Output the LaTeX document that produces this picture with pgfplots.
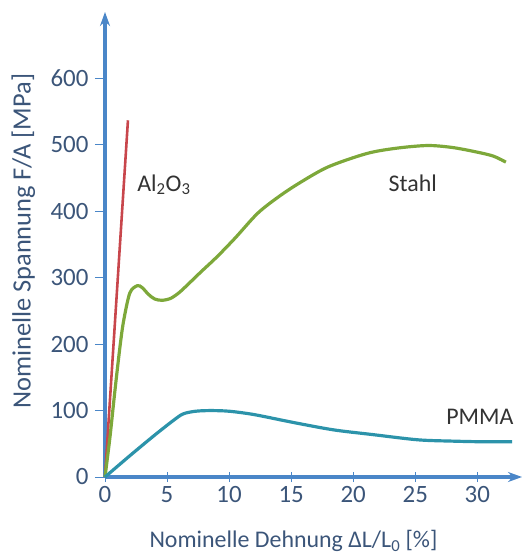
\documentclass[border=0pt]{standalone}
\usepackage{pgfplots}
\pgfplotsset{compat=1.18}
\usepackage{fontspec}
\setmainfont{Carlito}
\usetikzlibrary{arrows.meta}
\definecolor{axblue}{HTML}{4A86C8}
\definecolor{lblcol}{HTML}{3B5579}
\definecolor{txtcol}{HTML}{333333}
\definecolor{cred}{HTML}{C8464C}
\definecolor{cgreen}{HTML}{7DA83A}
\definecolor{cteal}{HTML}{2C93AA}
\begin{document}
\begin{tikzpicture}
\useasboundingbox (-105bp,-79bp) rectangle (417bp,477bp);
\begin{axis}[
  scale only axis,
  width=417bp, height=465bp,
  xmin=0, xmax=33.6, ymin=0, ymax=700,
  axis lines=left,
  axis line style={axblue, line width=3.5pt, -{Stealth[length=14bp,width=10bp]}},
  xtick={0,5,...,30}, ytick={0,100,...,600},
  x tick style={axblue, line width=1pt},
  y tick style={axblue, line width=1pt},
  xtick align=center, ytick align=outside,
  major tick length=10bp,
  tick label style={font=\fontsize{25}{27}\selectfont, text=lblcol},
  /pgf/number format/assume math mode=true,
  xticklabel style={yshift=-1bp},
  yticklabel style={xshift=-3bp},
  label style={font=\fontsize{24}{26}\selectfont, text=lblcol},
  xlabel={Nominelle Dehnung ΔL/L\textsubscript{0} [\%]},
  ylabel={Nominelle Spannung F/A [MPa]},
  xlabel style={at={(axis description cs:0.452,0)}, anchor=center, yshift=-64bp},
  ylabel style={at={(axis description cs:-0.196,0.507)}, anchor=center, font=\fontsize{26.5}{28}\selectfont},
  clip=false,
]
\addplot[cred, line width=2.6pt] coordinates {(0,0) (1.85,537)};
\addplot[cgreen, line width=3.2pt, smooth, tension=0.5] coordinates {
(0,0) (0.4,60) (0.8,130) (1.2,195) (1.5,235) (2.0,277) (2.6,288) (3.0,285) (3.5,275) (4.0,268) (4.6,266) (5.3,269) (6.0,278) (6.8,292) (7.8,310) (9.0,331) (10.5,360) (12.3,397) (14,422) (15.7,443) (18,467) (21.1,487) (23.5,495) (26,499) (28,496) (30,489) (31.3,483) (32.3,474)};
\addplot[cteal, line width=3.2pt, smooth, tension=0.5] coordinates {
(0,0) (2,32) (4,63) (5.5,85) (6.3,95) (7.3,99) (8.5,100) (10,99) (12,94) (15.2,82) (18.4,71) (21.5,64) (25.2,56) (28,54) (30.5,53) (32.8,53)};
\node[text=txtcol, font=\fontsize{24}{26}\selectfont] at (axis cs:4.75,440) {Al\textsubscript{2}O\textsubscript{3}};
\node[text=txtcol, font=\fontsize{24}{26}\selectfont] at (axis cs:24.8,442) {Stahl};
\node[text=txtcol, font=\fontsize{24}{26}\selectfont] at (axis cs:30.2,90) {PMMA};
\end{axis}
\end{tikzpicture}
\end{document}
